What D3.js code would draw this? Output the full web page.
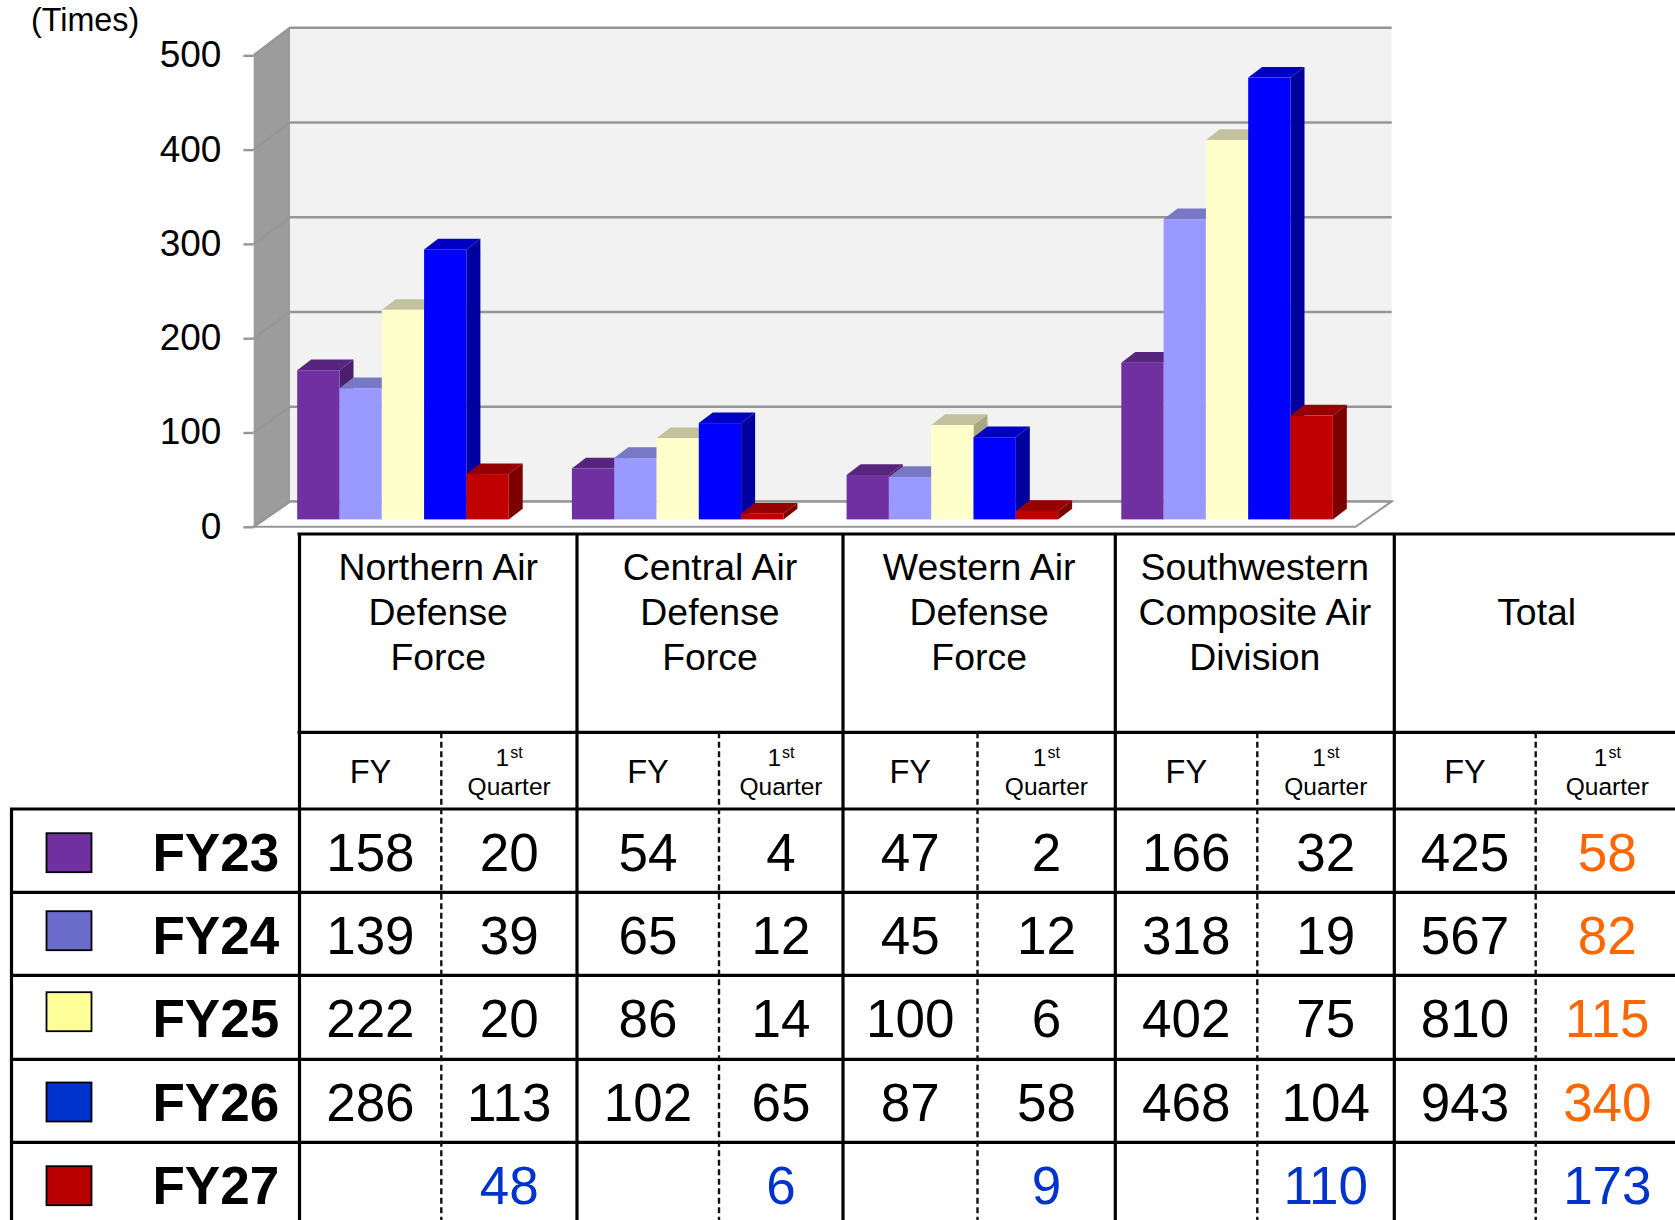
<!DOCTYPE html>
<html>
<head>
<meta charset="utf-8">
<style>
  body { margin: 0; background: #fff; }
  svg { display: block; }
  text { font-family: "Liberation Sans", Arial, sans-serif; fill: #000; }
</style>
<script src="https://cdn.jsdelivr.net/npm/d3@7"></script>
</head>
<body>
<svg id="chart" width="1675" height="1220"></svg>
<script>
// 1. Data
const categories = ["Northern", "Central", "Western", "Southwestern"];
const seriesNames = ["FY23", "FY24", "FY25", "FY26", "FY27"];
const fy23Bars = [158, 54, 47, 166];
const fy24Bars = [139, 65, 45, 318];
const fy25Bars = [222, 86, 100, 402];
const fy26Bars = [286, 102, 87, 468];
const fy27Bars = [48, 6, 9, 110];
const yTicks = [0, 100, 200, 300, 400, 500];

const columnTitles = [
  ["Northern Air", "Defense", "Force"],
  ["Central Air", "Defense", "Force"],
  ["Western Air", "Defense", "Force"],
  ["Southwestern", "Composite Air", "Division"],
  ["Total"],
];
const fy23Row = ["158", "20", "54", "4", "47", "2", "166", "32", "425", "58"];
const fy24Row = ["139", "39", "65", "12", "45", "12", "318", "19", "567", "82"];
const fy25Row = ["222", "20", "86", "14", "100", "6", "402", "75", "810", "115"];
const fy26Row = ["286", "113", "102", "65", "87", "58", "468", "104", "943", "340"];
const fy27Row = ["", "48", "", "6", "", "9", "", "110", "", "173"];

const barSeries = [fy23Bars, fy24Bars, fy25Bars, fy26Bars, fy27Bars];
const tableRows = [fy23Row, fy24Row, fy25Row, fy26Row, fy27Row];

// colours: front, top, side of each bar, then the table swatch
const barColors = [
  ["#7030a0", "#58257e", "#4c1f6e"],
  ["#9999ff", "#7878c4", "#6a6aae"],
  ["#ffffcc", "#c2c29e", "#a8a888"],
  ["#0000ff", "#0000c4", "#00009e"],
  ["#c00000", "#960000", "#7c0000"],
];
const swatchColors = ["#7030a0", "#6b6bcb", "#ffff99", "#0033cc", "#b80000"];

const svg = d3.select("#chart");

// 2. Scales
const wall = { frontX: 253.7, backX: 290, rightX: 1391.7, floorRightX: 1355.6 };
const yFront = d3.scaleLinear().domain([0, 500]).range([526.8, 55.3]);
const yBack = d3.scaleLinear().domain([0, 500]).range([501.4, 27.8]);
const yBar = d3.scaleLinear().domain([0, 500]).range([519.4, 47.4]);

const xGroup = d3
  .scaleBand()
  .domain(categories)
  .range([265.6, 1364.4])
  .paddingInner(0.23)
  .paddingOuter(0.115);
const xBar = d3
  .scaleBand()
  .domain(seriesNames)
  .range([0, xGroup.bandwidth()]);

const depthX = 14;
const depthY = 10.7;
const pts = (list) => list.map((p) => p.join(",")).join(" ");

// 3. Walls and floor
const chart = svg.append("g").attr("class", "chart");
const gridColor = "#969696";

chart
  .append("polygon")
  .attr("points", pts([
    [wall.backX, yBack(500)],
    [wall.rightX, yBack(500)],
    [wall.rightX, yBack(0)],
    [wall.backX, yBack(0)],
  ]))
  .attr("fill", "#f2f2f2");

chart
  .append("polygon")
  .attr("points", pts([
    [wall.frontX, yFront(500)],
    [wall.backX, yBack(500)],
    [wall.backX, yBack(0)],
    [wall.frontX, yFront(0)],
  ]))
  .attr("fill", "#9c9c9c");

chart
  .append("polygon")
  .attr("points", pts([
    [wall.frontX, yFront(0)],
    [wall.backX, yBack(0)],
    [wall.rightX, yBack(0)],
    [wall.floorRightX, yFront(0)],
  ]))
  .attr("fill", "#fff")
  .attr("stroke", gridColor)
  .attr("stroke-width", 2);

chart
  .selectAll(".grid")
  .data(yTicks)
  .enter()
  .append("polyline")
  .attr("class", "grid")
  .attr("fill", "none")
  .attr("stroke", gridColor)
  .attr("stroke-width", 2.4)
  .attr("points", (d) => pts([
    [wall.frontX, yFront(d)],
    [wall.backX, yBack(d)],
    [wall.rightX, yBack(d)],
  ]));

// 4. Axis
const yAxis = chart
  .append("g")
  .attr("transform", `translate(${wall.frontX},0)`)
  .call(d3.axisLeft(yFront).tickValues(yTicks).tickSize(10.3).tickPadding(22));
yAxis.select(".domain").remove();
yAxis.selectAll(".tick line").attr("stroke", gridColor).attr("stroke-width", 2.4);
yAxis
  .selectAll(".tick text")
  .attr("font-size", 37)
  .attr("font-family", '"Liberation Sans", Arial, sans-serif')
  .attr("dy", "0.31em");

chart
  .append("text")
  .attr("x", 31)
  .attr("y", 31)
  .attr("font-size", 32.3)
  .text("(Times)");

// 5. Bars
categories.forEach((cat, c) => {
  seriesNames.forEach((name, s) => {
    const x0 = xGroup(cat) + xBar(name);
    const x1 = x0 + xBar.bandwidth();
    const top = yBar(barSeries[s][c]);
    const base = yBar(0);
    const [front, topColor, side] = barColors[s];
    chart
      .append("polygon")
      .attr("points", pts([
        [x1, top],
        [x1 + depthX, top - depthY],
        [x1 + depthX, base - depthY],
        [x1, base],
      ]))
      .attr("fill", side);
    chart
      .append("polygon")
      .attr("points", pts([
        [x0, top],
        [x0 + depthX, top - depthY],
        [x1 + depthX, top - depthY],
        [x1, top],
      ]))
      .attr("fill", topColor);
    chart
      .append("rect")
      .attr("x", x0)
      .attr("y", top)
      .attr("width", x1 - x0)
      .attr("height", base - top)
      .attr("fill", front);
  });
});

// 6. Table
const table = svg.append("g").attr("class", "table");
const solidX = [299.5, 577, 843, 1115.3, 1394.3];
const dashX = [441.3, 719, 977.5, 1257.3, 1535.7];
const tableTop = 534;
const subHeadY = 732.3;
const rowLines = [809, 892.3, 975.3, 1059.3, 1142.3];
const rowBaselines = [870.9, 953.9, 1037.2, 1120.6, 1203.9];
const swatchY = [833.2, 911.2, 992.2, 1082.5, 1166.2];
const bottom = 1220;
const right = 1675;
const centerEdge = 1679; // last column runs off the picture
const lineW = 3.2;

const hLine = (y, x1) =>
  table
    .append("line")
    .attr("x1", x1)
    .attr("x2", right)
    .attr("y1", y)
    .attr("y2", y)
    .attr("stroke", "#000")
    .attr("stroke-width", lineW);

hLine(tableTop, 297.5);
hLine(subHeadY, 297.5);
rowLines.forEach((y) => hLine(y, 10));

table
  .selectAll(".solid")
  .data(solidX.concat([11.5]))
  .enter()
  .append("line")
  .attr("class", "solid")
  .attr("x1", (d) => d)
  .attr("x2", (d) => d)
  .attr("y1", (d, i) => (i === 5 ? rowLines[0] : tableTop))
  .attr("y2", bottom)
  .attr("stroke", "#000")
  .attr("stroke-width", lineW);

table
  .selectAll(".dash")
  .data(dashX)
  .enter()
  .append("line")
  .attr("class", "dash")
  .attr("x1", (d) => d)
  .attr("x2", (d) => d)
  .attr("y1", subHeadY)
  .attr("y2", bottom)
  .attr("stroke", "#111")
  .attr("stroke-width", 2.4)
  .attr("stroke-dasharray", "6 3.5");

// group titles
const groupEdges = solidX.concat([centerEdge]);
columnTitles.forEach((lines, i) => {
  const cx = (groupEdges[i] + groupEdges[i + 1]) / 2;
  const firstBase = lines.length === 1 ? 624.5 : 579.5;
  lines.forEach((line, l) => {
    table
      .append("text")
      .attr("x", cx)
      .attr("y", firstBase + l * 45)
      .attr("text-anchor", "middle")
      .attr("font-size", 37.4)
      .text(line);
  });
});

// sub headers and values
const columnCenters = [];
solidX.forEach((x, i) => {
  columnCenters.push((x + dashX[i]) / 2);
  columnCenters.push((dashX[i] + groupEdges[i + 1]) / 2);
});

columnCenters.forEach((cx, i) => {
  if (i % 2 === 0) {
    table
      .append("text")
      .attr("x", cx)
      .attr("y", 783.2)
      .attr("text-anchor", "middle")
      .attr("font-size", 32.5)
      .text("FY");
  } else {
    const first = table
      .append("text")
      .attr("x", cx)
      .attr("y", 765.7)
      .attr("text-anchor", "middle")
      .attr("font-size", 24.5);
    first.append("tspan").text("1");
    first.append("tspan").attr("font-size", 16).attr("dx", 1).attr("dy", -8).text("st");
    table
      .append("text")
      .attr("x", cx)
      .attr("y", 795)
      .attr("text-anchor", "middle")
      .attr("font-size", 24.5)
      .text("Quarter");
  }
});

tableRows.forEach((row, r) => {
  table
    .append("rect")
    .attr("x", 46.5)
    .attr("y", swatchY[r])
    .attr("width", 45)
    .attr("height", 39)
    .attr("fill", swatchColors[r])
    .attr("stroke", "#000")
    .attr("stroke-width", 1.8);
  table
    .append("text")
    .attr("x", 152.5)
    .attr("y", rowBaselines[r])
    .attr("font-size", 53)
    .attr("font-weight", "bold")
    .text(seriesNames[r]);
  row.forEach((value, i) => {
    let color = "#000";
    if (r === 4) color = "#0033cc";
    else if (i === 9) color = "#ff6600";
    table
      .append("text")
      .attr("x", columnCenters[i])
      .attr("y", rowBaselines[r])
      .attr("text-anchor", "middle")
      .attr("font-size", 53)
      .style("fill", color)
      .text(value);
  });
});
</script>
</body>
</html>
